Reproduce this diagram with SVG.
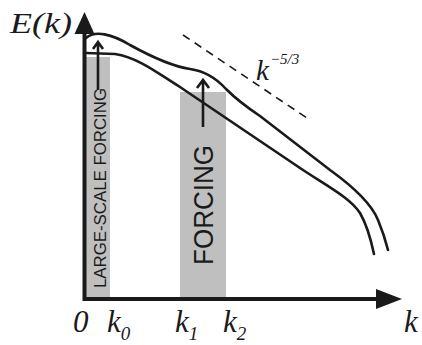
<svg xmlns="http://www.w3.org/2000/svg" width="422" height="345" viewBox="0 0 422 345">
<style>
.band{fill:#bfbfbf}
.axis{stroke:#1a1a1a;stroke-width:4;fill:none}
.curve{stroke:#1a1a1a;stroke-width:2.6;fill:none;stroke-linecap:round}
.arr{stroke:#1a1a1a;stroke-width:2.6;fill:none}
.dash{stroke:#1a1a1a;stroke-width:1.6;stroke-dasharray:8,6;fill:none}
.math{font-family:"Liberation Serif","Times New Roman",serif;font-style:italic;fill:#1a1a1a}
.lbl{font-family:"Liberation Sans",Arial,sans-serif;fill:#1a1a1a}
</style>
<g id="band-large">
<rect class="band" x="86" y="57" width="24" height="241"/>
<path class="arr" d="M98,90 V43 M93,49 L98,42 L103,49"/>
<text class="lbl" transform="translate(106,288) rotate(-90)" font-size="16" textLength="200" lengthAdjust="spacingAndGlyphs">LARGE-SCALE FORCING</text>
</g>
<g id="band-forcing">
<rect class="band" x="180" y="92" width="46" height="206"/>
<text class="lbl" transform="translate(213,265) rotate(-90)" font-size="28" textLength="120" lengthAdjust="spacingAndGlyphs">FORCING</text>
</g>
<g id="connectors">
<path class="curve" d="M86,38 C95,30 112,34 130,45 C150,56 170,66 190,69 C205,71 216,78 226,89 C236,99 245,106 260,116 L330,170 C355,188 372,205 378,220 C383,232 386,242 388,250"/>
<path class="curve" d="M86,53 L115,54 C140,58 160,75 180,87 L300,168 C330,188 350,198 360,213 C367,225 371,240 374,254"/>
<path class="arr" d="M203,127 V81 M197,88 L203,80 L209,88"/>
<path class="dash" d="M183,35 L307,118"/>
</g>
<g id="axes">
<path class="axis" d="M84.5,301 V30 M82.5,299 H380"/>
<polygon fill="#1a1a1a" points="84.5,12 74.5,34 94.5,34"/>
<polygon fill="#1a1a1a" points="402,299 376,289 376,309"/>
</g>
<g id="labels">
<text class="math" x="10" y="33" font-size="30" textLength="62" lengthAdjust="spacingAndGlyphs">E(k)</text>
<text class="math" x="256" y="80" font-size="29">k<tspan font-size="15" dy="-16" dx="1">−5/3</tspan></text>
<text class="math" x="73" y="332" font-size="31">0</text>
<text class="math" x="107" y="332" font-size="31">k<tspan font-size="19" dy="8">0</tspan></text>
<text class="math" x="175" y="332" font-size="31">k<tspan font-size="19" dy="8">1</tspan></text>
<text class="math" x="223" y="332" font-size="31">k<tspan font-size="19" dy="8">2</tspan></text>
<text class="math" x="404" y="332" font-size="31">k</text>
</g>
</svg>
